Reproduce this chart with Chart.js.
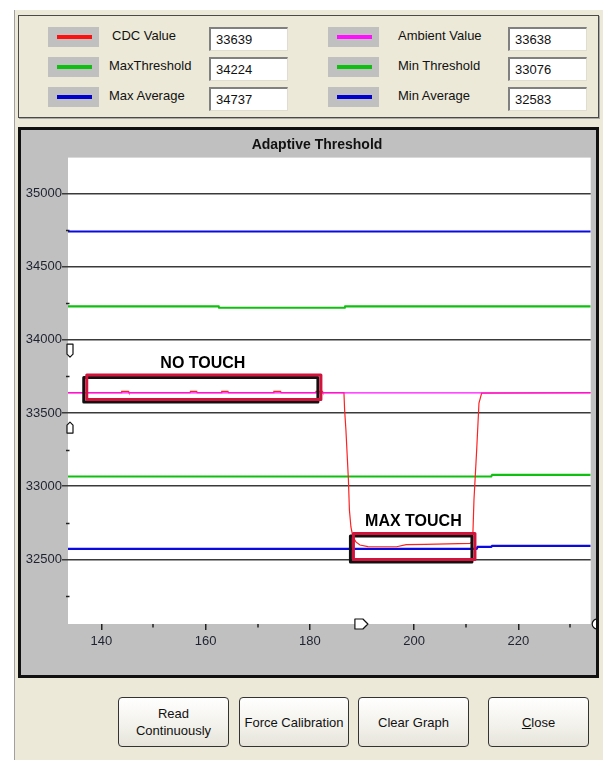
<!DOCTYPE html>
<html lang="en">
<head>
<meta charset="UTF-8">
<title>Adaptive Threshold</title>
<script src="https://cdn.jsdelivr.net/npm/chart.js@4"></script>
<style>
  body { margin:0; width:603px; height:760px; background:#fff; position:relative; overflow:hidden;
         font-family:"Liberation Sans", Arial, sans-serif; font-size:13px; color:#111; }
  #win { position:absolute; left:14px; top:10px; right:0; bottom:0; background:#ECE9D8; border-left:1px solid #a0a0a0; }
  #group { position:absolute; left:18px; top:15px; width:579px; height:101px; border:1px solid #4a4a4a;
           box-shadow:1px 1px 0 #a8a8a8; }
  .sw { position:absolute; width:51px; height:20px; background:#C0C0C0; }
  .sw span { position:absolute; left:9px; top:8px; width:35px; height:4px; }
  .lbl { position:absolute; line-height:15px; white-space:nowrap; }
  .tb { position:absolute; width:79px; height:24px; box-sizing:border-box; background:#fff;
        border-top:2px solid #808080; border-left:2px solid #808080; border-right:1px solid #e0ddd0; border-bottom:1px solid #e0ddd0;
        padding-left:5px; line-height:21px; }
  #panel { position:absolute; left:18px; top:127px; width:581px; height:551px; box-sizing:border-box;
           border:3px solid #111; background:#C0C0C0; }
  .btn { position:absolute; top:697px; height:50px; box-sizing:border-box; border:1px solid #333; border-radius:4px;
         background:linear-gradient(#ffffff, #f3f2ec 55%, #e6e4da); display:flex; align-items:center; justify-content:center;
         text-align:center; line-height:17px; }
</style>
</head>
<body>
<div id="win"></div>
<div id="group"></div>
<div id="legend"></div>
<div id="panel"><canvas id="chart" width="575" height="545"></canvas></div>
<div class="btn" style="left:118px;width:111px;">Read<br>Continuously</div>
<div class="btn" style="left:239px;width:110px;">Force Calibration</div>
<div class="btn" style="left:358px;width:111px;">Clear Graph</div>
<div class="btn" style="left:488px;width:101px;"><span><u>C</u>lose</span></div>
<script>
// legend readouts
const legendNames = ['CDC Value', 'MaxThreshold', 'Max Average', 'Ambient Value', 'Min Threshold', 'Min Average'];
const legendValues = ['33639', '34224', '34737', '33638', '33076', '32583'];
const legendColors = ['#ff1010', '#10c010', '#0000d0', '#ff10ff', '#10c010', '#0000d0'];

// x axis (sample time)
const xMin = 133.6, xMax = 233.9;
const xMajorTicks = [140, 160, 180, 200, 220];
const xMinorTicks = [150, 170, 190, 210, 230];

// y axis (counts)
const yMin = 32058, yMax = 35245;
const yMajorTicks = [32500, 33000, 33500, 34000, 34500, 35000];
const yMinorTicks = [32250, 32750, 33250, 33750, 34250, 34750];

// CDC value
const cdcTime = [133.6, 143.8, 143.9, 145.2, 145.3, 157.0, 157.1, 158.3, 158.4, 163.0, 163.1, 164.3, 164.4,
                 173.0, 173.1, 174.4, 174.5, 181.1, 181.2, 182.4, 182.5, 186.55, 186.68, 186.93, 187.22, 187.41,
                 187.6, 187.89, 188.27, 188.85, 189.62, 191.15, 196.66, 198.5, 202.09, 210.73, 211.25, 211.5,
                 212.02, 212.46, 212.98, 233.9];
const cdcValue = [33639, 33639, 33647, 33647, 33639, 33639, 33647, 33647, 33639, 33639, 33647, 33647, 33639,
                  33639, 33647, 33647, 33639, 33639, 33647, 33647, 33639, 33639, 33520, 33384, 33178, 33041,
                  32837, 32721, 32653, 32619, 32598, 32587, 32586, 32600, 32602, 32609, 32625, 32905,
                  33247, 33568, 33636, 33639];

// ambient value
const ambTime = [133.6, 233.9];
const ambValue = [33638, 33638];

// max threshold
const maxThTime = [133.6, 162.5, 162.6, 186.7, 186.8, 233.9];
const maxThValue = [34229, 34229, 34219, 34219, 34229, 34229];

// min threshold
const minThTime = [133.6, 214.8, 215.0, 233.9];
const minThValue = [33066, 33066, 33077, 33077];

// max average
const maxAvgTime = [133.6, 233.9];
const maxAvgValue = [34740, 34740];

// min average
const minAvgTime = [133.6, 212.0, 212.2, 214.8, 215.0, 233.9];
const minAvgValue = [32571, 32571, 32585, 32585, 32592, 32592];

// marked regions
const regionNames = ['NO TOUCH', 'MAX TOUCH'];
const regionX0 = [137.2, 188.37];
const regionX1 = [182.13, 211.69];
const regionY0 = [33592, 32499];
const regionY1 = [33759, 32676];
const regionTextX = [159.48, 199.88];
const regionTextY = [33834, 32760];

// cursor handles
const yCursors = [33926, 33400];
const xCursor = 189.9;

// build legend
const legend = document.getElementById('legend');
legendNames.forEach((name, i) => {
  const col = Math.floor(i / 3), row = i % 3;
  const top = 27 + row * 30;
  const sw = document.createElement('div');
  sw.className = 'sw';
  sw.style.left = (col ? 328 : 48) + 'px';
  sw.style.top = top + 'px';
  sw.innerHTML = '<span style="background:' + legendColors[i] + '"></span>';
  legend.appendChild(sw);
  const lb = document.createElement('div');
  lb.className = 'lbl';
  lb.style.left = (col ? 398 : (row ? 109 : 112)) + 'px';
  lb.style.top = (top + 1) + 'px';
  lb.textContent = name;
  legend.appendChild(lb);
  const tb = document.createElement('div');
  tb.className = 'tb';
  tb.style.left = (col ? 508 : 209) + 'px';
  tb.style.top = top + 'px';
  tb.textContent = legendValues[i];
  legend.appendChild(tb);
});

function pts(xs, ys) {
  return xs.map((x, i) => ({ x: x, y: ys[i] }));
}

function handle(ctx, cx, cy, w, h, angle) {
  ctx.save();
  ctx.translate(cx, cy);
  ctx.rotate(angle);
  ctx.beginPath();
  ctx.moveTo(-w / 2, -h / 2);
  ctx.lineTo(w / 2, -h / 2);
  ctx.lineTo(w / 2, h / 2 - w / 2);
  ctx.lineTo(0, h / 2);
  ctx.lineTo(-w / 2, h / 2 - w / 2);
  ctx.closePath();
  ctx.fillStyle = '#fff';
  ctx.fill();
  ctx.strokeStyle = '#111';
  ctx.lineWidth = 1.2;
  ctx.stroke();
  ctx.restore();
}

const panelPlugin = {
  id: 'panel',
  beforeDraw(chart) {
    const { ctx, chartArea: a, width, height } = chart;
    ctx.save();
    ctx.fillStyle = '#C0C0C0';
    ctx.fillRect(0, 0, width, height);
    ctx.fillStyle = '#fff';
    ctx.fillRect(a.left, a.top, a.right - a.left, a.bottom - a.top);
    ctx.restore();
  },
  afterDraw(chart) {
    const { ctx, chartArea: a } = chart;
    const xs = chart.scales.x, ys = chart.scales.y;
    ctx.save();
    // title
    ctx.fillStyle = '#111';
    ctx.font = 'bold 14px "Liberation Sans", Arial, sans-serif';
    ctx.textAlign = 'center';
    ctx.textBaseline = 'alphabetic';
    ctx.fillText('Adaptive Threshold', 296, 18.5);
    // minor ticks
    ctx.strokeStyle = '#222';
    ctx.lineWidth = 1.5;
    yMinorTicks.forEach(v => {
      const y = Math.round(ys.getPixelForValue(v)) + 0.5;
      ctx.beginPath(); ctx.moveTo(a.left - 2, y); ctx.lineTo(a.left + 1.5, y); ctx.stroke();
    });
    xMinorTicks.forEach(v => {
      const x = Math.round(xs.getPixelForValue(v));
      ctx.beginPath(); ctx.moveTo(x, a.bottom); ctx.lineTo(x, a.bottom + 3.5); ctx.stroke();
    });
    // marked regions
    regionNames.forEach((name, i) => {
      const x0 = xs.getPixelForValue(regionX0[i]), x1 = xs.getPixelForValue(regionX1[i]);
      const y0 = ys.getPixelForValue(regionY1[i]), y1 = ys.getPixelForValue(regionY0[i]);
      ctx.lineJoin = 'round';
      ctx.lineWidth = 3;
      ctx.strokeStyle = '#111';
      ctx.strokeRect(x0 - 3, y0 + 2.5, x1 - x0, y1 - y0);
      ctx.strokeStyle = '#d2143c';
      ctx.strokeRect(x0, y0, x1 - x0, y1 - y0);
      ctx.fillStyle = '#000';
      ctx.font = 'bold 16px "Liberation Sans", Arial, sans-serif';
      ctx.textAlign = 'center';
      ctx.textBaseline = 'middle';
      ctx.fillText(name, xs.getPixelForValue(regionTextX[i]), ys.getPixelForValue(regionTextY[i]));
    });
    // cursor handles
    handle(ctx, a.left + 2, ys.getPixelForValue(yCursors[0]), 6, 13, 0);
    handle(ctx, a.left + 2, ys.getPixelForValue(yCursors[1]), 6, 11, Math.PI);
    handle(ctx, xs.getPixelForValue(xCursor), a.bottom, 10, 13, -Math.PI / 2);
    ctx.beginPath();
    ctx.arc(a.right + 6.5, a.bottom, 5, 0, Math.PI * 2);
    ctx.fillStyle = '#fff'; ctx.fill();
    ctx.strokeStyle = '#111'; ctx.lineWidth = 1.2; ctx.stroke();
    ctx.restore();
  }
};

const tickFont = { family: '"Liberation Sans", Arial, sans-serif', size: 13 };

new Chart(document.getElementById('chart'), {
  type: 'line',
  data: {
    datasets: [
      { label: 'Ambient Value', data: pts(ambTime, ambValue), borderColor: '#ff10ff', borderWidth: 1.3, order: 1 },
      { label: 'CDC Value', data: pts(cdcTime, cdcValue), borderColor: '#ff2020', borderWidth: 1.2, order: 2 },
      { label: 'MaxThreshold', data: pts(maxThTime, maxThValue), borderColor: '#10c010', borderWidth: 2.2, order: 3 },
      { label: 'Min Threshold', data: pts(minThTime, minThValue), borderColor: '#10c010', borderWidth: 2.2, order: 3 },
      { label: 'Max Average', data: pts(maxAvgTime, maxAvgValue), borderColor: '#0a0ae0', borderWidth: 2.2, order: 3 },
      { label: 'Min Average', data: pts(minAvgTime, minAvgValue), borderColor: '#0a0ae0', borderWidth: 2.2, order: 3 }
    ]
  },
  options: {
    responsive: false,
    animation: false,
    events: [],
    elements: { point: { radius: 0 }, line: { tension: 0 } },
    layout: { padding: { left: 0, right: 5.3, top: 27.6, bottom: 0 } },
    plugins: { legend: { display: false }, tooltip: { enabled: false }, title: { display: false } },
    scales: {
      x: {
        type: 'linear', min: xMin, max: xMax,
        afterBuildTicks: s => { s.ticks = xMajorTicks.map(v => ({ value: v })); },
        afterFit: s => { s.height = 51; },
        grid: { drawOnChartArea: false, tickLength: 6, color: '#222', lineWidth: 1.5 },
        border: { display: false },
        ticks: { color: '#1e2230', font: tickFont, padding: 4, maxRotation: 0, callback: v => String(v) }
      },
      y: {
        type: 'linear', min: yMin, max: yMax,
        afterBuildTicks: s => { s.ticks = yMajorTicks.map(v => ({ value: v })); },
        afterFit: s => { s.width = 47; },
        grid: { drawOnChartArea: true, tickLength: 6, color: '#3a3a3a', lineWidth: 1.5 },
        border: { display: false },
        ticks: { color: '#1e2230', font: tickFont, padding: 0, callback: v => String(v) }
      }
    }
  },
  plugins: [panelPlugin]
});
</script>
</body>
</html>
